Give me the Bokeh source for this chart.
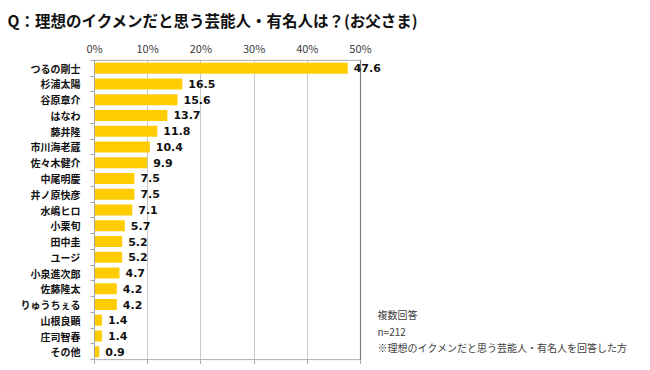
from bokeh.plotting import figure
from bokeh.models import (ColumnDataSource, Range1d, LinearAxis, FixedTicker, Label, LabelSet,
                          Span)
from bokeh.core.properties import value
from bokeh.embed import file_html
from bokeh.resources import INLINE

title_text = "Q：理想のイクメンだと思う芸能人・有名人は？(お父さま)"
names = ["つるの剛士", "杉浦太陽", "谷原章介", "はなわ", "藤井隆", "市川海老蔵", "佐々木健介",
         "中尾明慶", "井ノ原快彦", "水嶋ヒロ", "小栗旬", "田中圭", "ユージ", "小泉進次郎",
         "佐藤隆太", "りゅうちぇる", "山根良顕", "庄司智春", "その他"]
values = [47.6, 16.5, 15.6, 13.7, 11.8, 10.4, 9.9, 7.5, 7.5, 7.1, 5.7, 5.2, 5.2, 4.7,
          4.2, 4.2, 1.4, 1.4, 0.9]
x_ticks = [0, 10, 20, 30, 40, 50]
notes = ["複数回答", "n=212", "※理想のイクメンだと思う芸能人・有名人を回答した方"]

JP = "Noto Sans CJK JP"
W, H = 640, 364
N = len(names)
centers = [i + 0.5 for i in range(N)]
bounds = list(range(N + 1))

# pixel layout: 0..50% spans 266px starting LEFT px from the figure's left edge
LEFT, SPAN50 = 94, 266
x_end = x_ticks[-1] * (W - LEFT) / SPAN50
PAD = 0.05

src = ColumnDataSource(dict(y=centers, val=values,
                            lab=["%.1f" % v for v in values]))

p = figure(width=W, height=H, output_backend="svg", toolbar_location=None,
           x_range=Range1d(0, x_end), y_range=Range1d(N + PAD, -PAD),
           x_axis_location=None, y_axis_location=None,
           min_border_left=LEFT, min_border_right=0, min_border_top=54,
           min_border_bottom=0)

p.outline_line_color = None
p.background_fill_color = "white"
p.border_fill_color = "white"

p.title.text = title_text
p.title.text_font = JP
p.title.text_font_style = "bold"
p.title.text_font_size = "15.5px"
p.title.text_color = "#111111"
p.title.align = "left"
p.title.offset = -(LEFT - 7)
p.title.standoff = 12

# top axis with percentage labels
xa = LinearAxis(ticker=FixedTicker(ticks=x_ticks))
xa.major_label_overrides = {t: "%d%%" % t for t in x_ticks}
xa.axis_line_color = None
xa.major_tick_out = 0
xa.major_tick_in = 0
xa.minor_tick_line_color = None
xa.major_label_standoff = 4
xa.major_label_text_font = JP
xa.major_label_text_font_size = "11px"
xa.major_label_text_color = "#404040"
p.add_layout(xa, "above")

# bottom axis: tick marks only
xb = LinearAxis(ticker=FixedTicker(ticks=[], minor_ticks=x_ticks))
xb.axis_line_color = None
xb.minor_tick_out = 4
xb.minor_tick_in = 0
xb.minor_tick_line_color = "#a6a6a6"
xb.major_tick_line_color = None
p.add_layout(xb, "below")

# left axis: labels at centers, tick marks at boundaries
yc = LinearAxis(ticker=FixedTicker(ticks=centers, minor_ticks=bounds))
yc.major_label_overrides = {c: n for c, n in zip(centers, names)}
yc.axis_line_color = "#a6a6a6"
yc.major_tick_line_color = None
yc.major_tick_out = 0
yc.minor_tick_out = 4
yc.minor_tick_in = 0
yc.minor_tick_line_color = "#a6a6a6"
yc.major_label_standoff = 10
yc.major_label_text_font = JP
yc.major_label_text_font_style = "bold"
yc.major_label_text_font_size = "10px"
yc.major_label_text_color = "#111111"
p.add_layout(yc, "left")

p.xgrid.ticker = FixedTicker(ticks=x_ticks[1:-1])
p.xgrid.grid_line_color = "#c8c8c8"
p.ygrid.grid_line_color = None

# frame lines (top / bottom across 0..50%, right at 50%)
p.segment(x0=[x_ticks[0]] * 2, x1=[x_ticks[-1]] * 2, y0=[bounds[0], bounds[-1]],
          y1=[bounds[0], bounds[-1]], line_color="#a6a6a6", line_width=1)
p.add_layout(Span(location=x_ticks[-1], dimension="height", line_color="#7f7f7f",
                  line_width=1.2))

p.hbar(y="y", right="val", left=0, height=0.7, source=src,
       fill_color="#ffcc00", line_color=None)

p.add_layout(LabelSet(x="val", y="y", text="lab", source=src, x_offset=6,
                      text_baseline="middle", text_font=value("DejaVu Sans"),
                      text_font_style="bold", text_font_size="11px",
                      text_color="#111111"))

for i, t in enumerate(notes):
    p.add_layout(Label(x=283, y=46 - i * 16.5, x_units="screen", y_units="screen",
                       text=t, text_font=JP, text_font_size="10px",
                       text_baseline="middle", text_color="#404040"))

open("out.html", "w").write(file_html(p, INLINE))
